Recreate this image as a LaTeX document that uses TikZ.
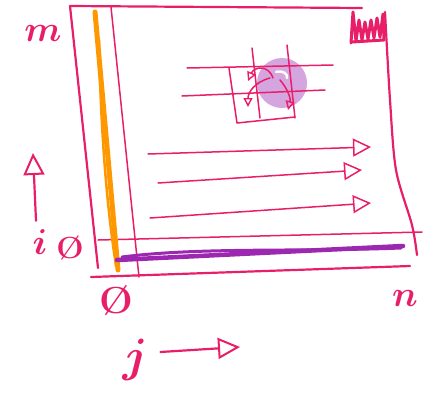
\documentclass[tikz,border=0pt]{standalone}
\usepackage{amsmath}
\usepackage{amssymb}
\usepackage{tikz}
\usetikzlibrary{arrows.meta}

\definecolor{ink}{RGB}{232,30,104}
\definecolor{rowc}{RGB}{156,39,176}
\definecolor{colc}{RGB}{255,152,0}
\definecolor{blob}{RGB}{212,165,222}

\begin{document}
\begin{tikzpicture}[x=1pt,y=-1pt,line cap=round,line join=round,
		pen/.style={draw=ink,line width=2.2pt},
		thin pen/.style={draw=ink,line width=1.5pt},
		hand/.style={text=ink,inner sep=0pt,scale=3.6,font=\boldmath},
		sweep/.style={thin pen,-{Triangle[open,length=18pt,width=18pt,line width=1.5pt]}},
		axis/.style={pen,-{Triangle[open,length=22pt,width=21pt,line width=2pt]}},
		turn/.style={thin pen,-{Triangle[open,length=9pt,width=9pt,line width=1.4pt]}}]
			\useasboundingbox (0,0) rectangle (423,397);
			% outer frame
			\draw[pen] (70,6) -- (362,8);
			\draw[pen] (70,6) -- (98,268);
			\draw[pen] plot[smooth] coordinates {(385,12) (390,100) (396,170) (412,225) (417,255)};
			\draw[pen] (91,277) -- (410,266);
			\draw[thin pen] (111,7) -- (139,277);
			\draw[thin pen] (98,240) -- (422,232);
			% corner scribble
			\draw[ink,line width=3pt] (351,43) -- (353,12) -- (356,41) -- (359,20) -- (362,40) -- (365,22) -- (368,39) -- (371,20) -- (374,38) -- (377,18) -- (380,37) -- (383,14) -- (384,40) -- (352,42);
			% first column and last row
			\draw[colc,line width=5pt] (95,12) -- (118,270);
			\draw[colc,line width=2.5pt] (99,40) .. controls (101,150) and (109,220) .. (116,266);
			\draw[rowc,line width=4.5pt] (117,260) -- (403,246);
			\draw[rowc,line width=3pt] (122,257) .. controls (200,247) and (300,252) .. (401,248);
			% sweep arrows
			\coordinate (s1) at (148,154); \coordinate (e1) at (371,147);
			\coordinate (s2) at (158,183); \coordinate (e2) at (362,170);
			\coordinate (s3) at (150,218); \coordinate (e3) at (371,203);
			\draw[sweep] (s1) -- (e1);
			\draw[sweep] (s2) -- (e2);
			\draw[sweep] (s3) -- (e3);
			% small stencil
			\node[circle,fill=blob,minimum size=50pt,inner sep=0pt] (c) at (282,83) {};
			\draw[white,line width=2.5pt] (276,72) .. controls (283,70) and (288,74) .. (287,78);
			\draw[thin pen] (187,68) -- (333,65);
			\draw[thin pen] (182,96) -- (325,90);
			\draw[thin pen] (252,48) -- (260,118);
			\draw[thin pen] (287,45) -- (295,118);
			\draw[thin pen] (229,68) -- (237,123) -- (295,117);
			\draw[turn] (c.center) ++(-9,-5) .. controls (268,64) and (254,67) .. (248,81);
			\draw[turn] (c.center) ++(-12,-5) .. controls (255,82) and (248,92) .. (248,107);
			\draw[turn] (c.center) ++(-2,-3) .. controls (287,88) and (291,98) .. (288,110);
			% labels
			\node[hand] (m) at (43,33) {$m$};
			\node[hand] (i) at (40,242) {$i$};
			\node[hand,scale=0.85] (oi) at (70,248) {\textbf{\O}};
			\node[hand,scale=1.05] (o) at (116,301) {\textbf{\O}};
			\node[hand] (n) at (405,298) {$n$};
			\node[hand,scale=1.3] (j) at (135,360) {$j$};
			\coordinate (itip) at (33,153);
			\coordinate (jtip) at (240,347);
			\draw[axis] (i.north) ++(-4,-8) -- (itip);
			\draw[axis] (j.east) ++(12,-8) -- (jtip);
		\end{tikzpicture}
\end{document}
